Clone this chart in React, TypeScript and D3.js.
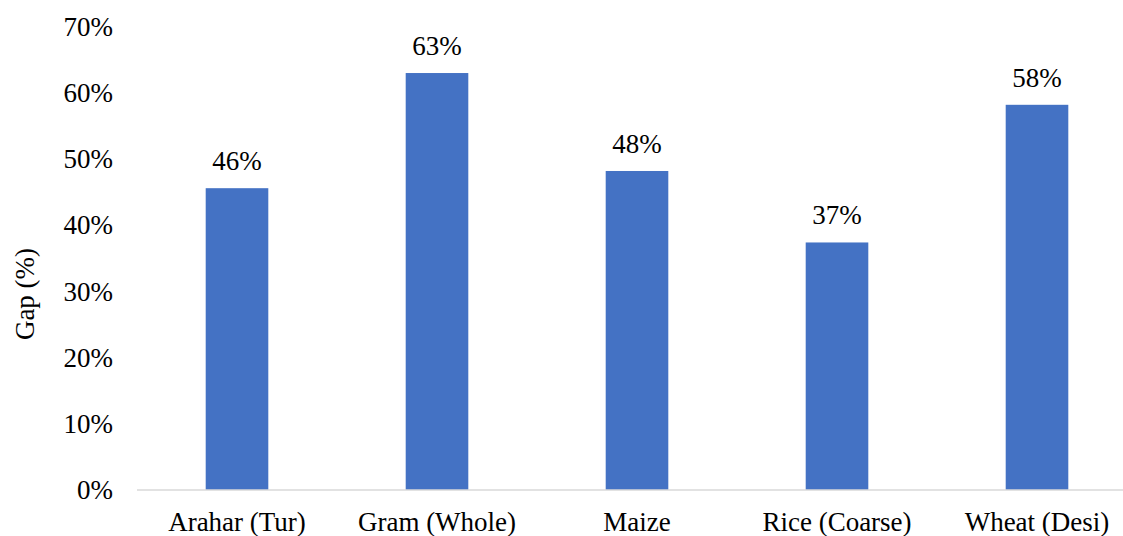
import React from "react";
import * as d3 from "d3";

const categories = ["Arahar (Tur)", "Gram (Whole)", "Maize", "Rice (Coarse)", "Wheat (Desi)"];
const gapValues = [45.6, 63.0, 48.2, 37.4, 58.2];
const valueLabels = ["46%", "63%", "48%", "37%", "58%"];
const yTicks = [0, 10, 20, 30, 40, 50, 60, 70];

const W = 1123;
const H = 536;
const FONT = "Liberation Serif, Tinos, Times New Roman, Times, DejaVu Serif, serif";
const txt: React.CSSProperties = { fontFamily: FONT, fontSize: "27px" };

export default function App() {
  const x = d3.scaleBand<string>().domain(categories).range([137, 1137]).paddingInner(0.687).paddingOuter(0.3435);
  const y = d3.scaleLinear().domain([0, 70]).range([490, 26.7]);

  return (
    <svg width={W} height={H} style={{ position: "absolute", left: 0, top: 0, background: "#fff" }}>
      {yTicks.map((t) => (
        <text key={t} x={113} y={y(t)} dy="0.34em" textAnchor="end" style={txt} fill="#000">
          {t}%
        </text>
      ))}
      {categories.map((c, i) => (
        <g key={c}>
          <rect x={x(c)} y={y(gapValues[i])} width={x.bandwidth()} height={y(0) - y(gapValues[i])} fill="#4472C4" />
          <text x={(x(c) as number) + x.bandwidth() / 2} y={y(gapValues[i]) - 18} textAnchor="middle" style={txt} fill="#000">
            {valueLabels[i]}
          </text>
          <text x={(x(c) as number) + x.bandwidth() / 2} y={531} textAnchor="middle" style={txt} fill="#000">
            {c}
          </text>
        </g>
      ))}
      <line x1={137} x2={1137} y1={y(0)} y2={y(0)} stroke="#d9d9d9" strokeWidth={1.5} />
      <text transform={`translate(34,294) rotate(-90)`} textAnchor="middle" style={txt} fill="#000">
        Gap (%)
      </text>
    </svg>
  );
}
